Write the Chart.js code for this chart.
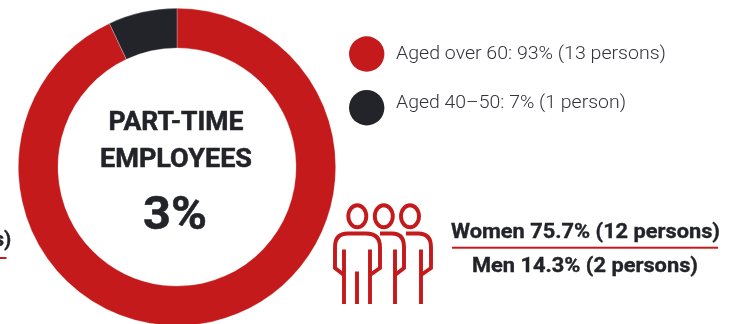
<!DOCTYPE html>
<html>
<head>
<meta charset="utf-8">
<style>
  html, body { margin: 0; padding: 0; background: #fff; }
  #stage { position: relative; width: 735px; height: 324px; overflow: hidden; }
  #donut { position: absolute; left: 0; top: 0; }
  #overlay { position: absolute; left: 0; top: 0; }
  text { font-family: Roboto, sans-serif; fill: #23242a; }
  .center { font-weight: 700; text-anchor: middle; stroke: #23242a; stroke-width: 0.5; }
  .legend { font-weight: 300; fill: #33343a; }
  .gender { font-weight: 700; stroke: #23242a; stroke-width: 0.35; }
  .icon path, .icon ellipse { fill: none; stroke: #c51a1b; stroke-width: 3.9; }
</style>
</head>
<body>
<div id="stage">
  <canvas id="donut" width="735" height="344"></canvas>
  <svg id="overlay" width="735" height="324" xmlns="http://www.w3.org/2000/svg">
    <g id="legend"></g>
    <text class="center" x="176" y="130" font-size="25" textLength="135" lengthAdjust="spacingAndGlyphs">PART-TIME</text>
    <text class="center" x="176" y="167" font-size="25" textLength="152" lengthAdjust="spacingAndGlyphs">EMPLOYEES</text>
    <text class="center" x="175" y="229" font-size="47" textLength="64" lengthAdjust="spacingAndGlyphs">3%</text>

    <!-- group of three people -->
    <g class="icon">
      <ellipse cx="357.3" cy="216.3" rx="9" ry="11"/>
      <ellipse cx="383.8" cy="216.3" rx="9" ry="11"/>
      <ellipse cx="410" cy="216.3" rx="9" ry="11"/>
      <path d="M344 304V249.5M357 304V271.5M370 304V249.5M395 304V249.5M421 304V249.5"/>
      <path d="M344 275L335 268V247Q335 233.5 348 233.5H366Q380 233.5 380 247V268L370 275"/>
      <path d="M380 233.5H392Q404 233.5 404 247V268L395 275"/>
      <path d="M406 233.5H418Q431 233.5 431 247V268L421 275"/>
    </g>

    <text class="gender" id="women" x="451" y="238" font-size="20.5" textLength="269" lengthAdjust="spacingAndGlyphs"></text>
    <rect x="452" y="246.7" width="266" height="2" fill="#c51a1b"/>
    <text class="gender" id="men" x="472" y="272" font-size="20.5" textLength="226" lengthAdjust="spacingAndGlyphs"></text>

    <!-- tail of the neighbouring panel's caption, cut by the page edge -->
    <text class="gender" x="-6.5" y="246" font-size="20.5">s)</text>
    <rect x="0" y="257" width="6.5" height="2" fill="#c51a1b"/>
  </svg>
</div>

<script src="https://cdn.jsdelivr.net/npm/chart.js@4/dist/chart.umd.min.js"></script>
<script>
// Age split of part-time employees
const ageCategories = ['Aged over 60: 93% (13 persons)', 'Aged 40–50: 7% (1 person)'];
const ageShares = [93, 7];
const sliceColors = ['#c51a1b', '#23242a'];
// Gender captions
const genderCaptions = ['Women 75.7% (12 persons)', 'Men 14.3% (2 persons)'];

new Chart(document.getElementById('donut'), {
  type: 'doughnut',
  data: {
    labels: ageCategories,
    datasets: [{
      data: ageShares,
      backgroundColor: sliceColors,
      borderColor: 'rgba(255,255,255,0.45)',
      borderWidth: 0.6
    }]
  },
  options: {
    responsive: false,
    animation: false,
    cutout: '75%',
    layout: { padding: { left: 18, right: 399, top: 8, bottom: 18 } },
    plugins: { legend: { display: false }, tooltip: { enabled: false } }
  }
});

// Legend markers and labels
const NS = 'http://www.w3.org/2000/svg';
const legendGroup = document.getElementById('legend');
const markerY = [54, 107.7];
const labelY = [59, 108];
const labelWidth = [270, 230];
ageCategories.forEach((label, i) => {
  const dot = document.createElementNS(NS, 'circle');
  dot.setAttribute('cx', 366.7);
  dot.setAttribute('cy', markerY[i]);
  dot.setAttribute('r', 17.7);
  dot.setAttribute('fill', sliceColors[i]);
  legendGroup.appendChild(dot);

  const text = document.createElementNS(NS, 'text');
  text.setAttribute('class', 'legend');
  text.setAttribute('x', 396);
  text.setAttribute('y', labelY[i]);
  text.setAttribute('font-size', 19);
  text.setAttribute('textLength', labelWidth[i]);
  text.setAttribute('lengthAdjust', 'spacingAndGlyphs');
  text.textContent = label;
  legendGroup.appendChild(text);
});
document.getElementById('women').textContent = genderCaptions[0];
document.getElementById('men').textContent = genderCaptions[1];
</script>
</body>
</html>
